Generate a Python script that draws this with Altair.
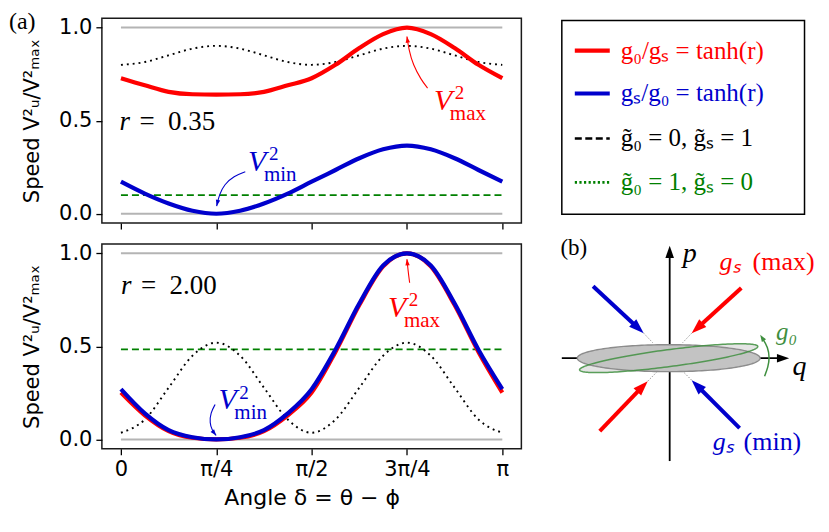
import altair as alt
import numpy as np
import pandas as pd

SERIF = "Liberation Serif"
SANS = "DejaVu Sans"
RED = "#ff0000"
BLUE = "#0000cc"
GREEN = "#008000"
SGREEN = "#3f8f3f"
GRAY = "#b4b4b4"

# ---------------- values ----------------
delta_over_pi = [0.0, 0.0625, 0.125, 0.1875, 0.25, 0.3125, 0.375, 0.4375, 0.5,
                 0.5625, 0.625, 0.6875, 0.75, 0.8125, 0.875, 0.9375, 1.0]

# r = 0.35
top_red = [0.728, 0.690, 0.655, 0.642, 0.640, 0.642, 0.655, 0.690, 0.728,
           0.800, 0.890, 0.965, 1.000, 0.965, 0.890, 0.800, 0.728]
top_blue = [0.172, 0.108, 0.055, 0.016, 0.000, 0.016, 0.055, 0.108, 0.172,
            0.235, 0.298, 0.346, 0.366, 0.346, 0.298, 0.235, 0.172]
top_black = [0.800, 0.815, 0.851, 0.887, 0.902, 0.887, 0.851, 0.815, 0.800,
             0.815, 0.851, 0.887, 0.902, 0.887, 0.851, 0.815, 0.800]
top_green = 0.10

# r = 2.00
bot_red = [0.252, 0.130, 0.045, 0.009, 0.000, 0.009, 0.045, 0.130, 0.252,
           0.470, 0.722, 0.930, 1.000, 0.930, 0.722, 0.470, 0.252]
bot_blue = [0.270, 0.140, 0.050, 0.012, 0.000, 0.012, 0.050, 0.140, 0.270,
            0.482, 0.730, 0.935, 1.000, 0.935, 0.730, 0.482, 0.270]
bot_black = [0.036, 0.107, 0.278, 0.450, 0.520, 0.450, 0.278, 0.107, 0.036,
             0.107, 0.278, 0.450, 0.520, 0.450, 0.278, 0.107, 0.036]
bot_green = 0.484

ref_levels = [0.0, 1.0]
tick_values = [0.0, 0.25, 0.5, 0.75, 1.0]
tick_labels = ["0", "\u03c0/4", "\u03c0/2", "3\u03c0/4", "\u03c0"]
y_ticks = [0.0, 0.5, 1.0]

# annotations (panel coordinates: delta/pi, value)
ann_top = [
    dict(x=0.8206, y=0.559, sub="max", color=RED,
         ax=[0.804, 0.787, 0.766, 0.755, 0.750], ay=[0.675, 0.72, 0.80, 0.88, 0.952]),
    dict(x=0.333, y=0.229, sub="min", color=BLUE,
         ax=[0.326, 0.296, 0.271, 0.258, 0.251], ay=[0.225, 0.202, 0.157, 0.104, 0.041]),
]
ann_bot = [
    dict(x=0.700, y=0.660, sub="max", color=RED,
         ax=[0.757, 0.753, 0.750], ay=[0.842, 0.905, 0.968]),
    dict(x=0.2555, y=0.161, sub="min", color=BLUE,
         ax=[0.247, 0.235, 0.2327, 0.2386, 0.2496], ay=[0.188, 0.143, 0.0896, 0.050, 0.0215]),
]

# legend (panel units)
legend_labels = ["g\u2080/g\u209b = tanh(r)", "g\u209b/g\u2080 = tanh(r)",
                 "g\u0303\u2080 = 0, g\u0303\u209b = 1", "g\u0303\u2080 = 1, g\u0303\u209b = 0"]
legend_colors = [RED, BLUE, "black", GREEN]
legend_rows_y = [1.727, 1.297, 0.847, 0.407]

# schematic (q, p units)
ell_gray = dict(cx=-0.01, cy=0.0, a=0.915, b=0.135, ang=0.0)
ell_tilt = dict(cx=-0.01, cy=0.0, a=0.90, b=0.085, ang=7.5)
arrows_tail_x = [-0.767, 0.717, -0.70, 0.70]
arrows_tail_y = [0.72, 0.703, -0.73, -0.70]
arrows_tip_x = [-0.26, 0.22, -0.22, 0.22]
arrows_tip_y = [0.25, 0.25, -0.23, -0.22]
arrows_color = [BLUE, RED, RED, BLUE]
conn_end_x = [-0.17, 0.13, -0.13, 0.13]
conn_end_y = [0.155, 0.155, -0.14, -0.13]
arc_x = [0.95, 0.985, 1.0, 0.985, 0.925]
arc_y = [-0.18, -0.09, 0.0, 0.11, 0.205]

# ---------------- helpers ----------------
PW, PH = 420, 205
XDOM = [-0.05, 1.05]
YDOM = [-0.05, 1.05]
PX_X = PW / (XDOM[1] - XDOM[0])
PX_Y = PH / (YDOM[1] - YDOM[0])
HEAD = "M0,-1L0.7,1L-0.7,1Z"

label_expr = " : ".join(f"datum.value == {v} ? '{l}'" for v, l in zip(tick_values, tick_labels)) + " : ''"


def angle_of(dx_px, dy_up_px):
    return float(np.degrees(np.arctan2(dx_px, dy_up_px)) % 360)


def xenc(bottom):
    if bottom:
        ax = alt.Axis(values=tick_values, labelExpr=label_expr, title="Angle \u03b4 = \u03b8 \u2212 \u03d5",
                      titleFont=SANS, titleFontSize=22, titleFontWeight="normal", titlePadding=8,
                      titleColor="black", labelFont=SANS, labelFontSize=21, labelColor="black",
                      tickSize=6, tickWidth=1.3, tickColor="black", labelPadding=4, grid=False,
                      domain=False, labelFlush=False)
    else:
        ax = alt.Axis(values=tick_values, labels=False, title=None, tickSize=6, tickWidth=1.3,
                      tickColor="black", grid=False, domain=False)
    return alt.X("d:Q", scale=alt.Scale(domain=XDOM, nice=False, zero=False), axis=ax)


def yenc():
    ax = alt.Axis(values=y_ticks, format=".1f",
                  title="Speed V\u00b2\u1d64/V\u00b2\u2098\u2090\u2093",
                  titleFont=SANS, titleFontSize=21, titleFontWeight="normal", titleColor="black",
                  titlePadding=13, labelFont=SANS, labelFontSize=21, labelColor="black",
                  tickSize=6, tickWidth=1.3, tickColor="black", labelPadding=4,
                  minExtent=46, maxExtent=46, grid=False, domain=False)
    return alt.Y("v:Q", scale=alt.Scale(domain=YDOM, nice=False, zero=False), axis=ax)


def panel(red, blue, black, green, r_text, r_xy, anns, bottom, tag=None):
    X = xenc(bottom)
    Y = yenc()
    layers = []
    gray = pd.DataFrame({"d": [0.0, 0.0], "d2": [1.0, 1.0], "v": ref_levels})
    layers.append(alt.Chart(gray).mark_rule(color=GRAY, strokeWidth=2).encode(x=X, x2="d2:Q", y=Y))
    gdf = pd.DataFrame({"d": [0.0, 1.0], "v": [green, green]})
    layers.append(alt.Chart(gdf).mark_line(color=GREEN, strokeWidth=1.8, strokeDash=[7, 4]).encode(x=X, y=Y))
    styles = [(black, dict(color="black", strokeWidth=1.9, strokeDash=[1.9, 4.0])),
              (red, dict(color=RED, strokeWidth=4.2)),
              (blue, dict(color=BLUE, strokeWidth=4.2))]
    for vals, kw in styles:
        df = pd.DataFrame({"d": delta_over_pi, "v": vals})
        layers.append(alt.Chart(df).mark_line(interpolate="monotone", **kw).encode(x=X, y=Y))
    for a in anns:
        adf = pd.DataFrame({"d": a["ax"], "v": a["ay"], "i": list(range(len(a["ax"])))})
        layers.append(alt.Chart(adf).mark_line(color=a["color"], strokeWidth=1.1, interpolate="basis")
                      .encode(x=X, y=Y, order="i:Q"))
        dx = (a["ax"][-1] - a["ax"][-2]) * PX_X
        dy = (a["ay"][-1] - a["ay"][-2]) * PX_Y
        n = np.hypot(dx, dy)
        hx = a["ax"][-1] - (dx / n) * 3 / PX_X
        hy = a["ay"][-1] - (dy / n) * 3 / PX_Y
        hdf = pd.DataFrame({"d": [hx], "v": [hy]})
        layers.append(alt.Chart(hdf).mark_point(shape=HEAD, filled=True, size=40, angle=angle_of(dx, dy),
                                                color=a["color"], opacity=1).encode(x=X, y=Y))
        tdf = pd.DataFrame({"d": [a["x"]], "v": [a["y"]]})
        layers.append(alt.Chart(tdf).mark_text(text="V", font=SERIF, fontStyle="italic", fontSize=30,
                                               align="left", baseline="alphabetic", color=a["color"])
                      .encode(x=X, y=Y))
        layers.append(alt.Chart(tdf).mark_text(text="2", font=SERIF, fontSize=19, dx=21, dy=-11,
                                               align="left", baseline="alphabetic", color=a["color"])
                      .encode(x=X, y=Y))
        layers.append(alt.Chart(tdf).mark_text(text=a["sub"], font=SERIF, fontSize=21, dx=16, dy=10,
                                               align="left", baseline="alphabetic", color=a["color"])
                      .encode(x=X, y=Y))
    rdf = pd.DataFrame({"d": [r_xy[0]], "v": [r_xy[1]]})
    layers.append(alt.Chart(rdf).mark_text(text="r", font=SERIF, fontStyle="italic", fontSize=27,
                                           align="left", baseline="alphabetic", color="black")
                  .encode(x=X, y=Y))
    layers.append(alt.Chart(rdf).mark_text(text=r_text, font=SERIF, fontSize=27, dx=20,
                                           align="left", baseline="alphabetic", color="black")
                  .encode(x=X, y=Y))
    if tag is not None:
        tg = pd.DataFrame({"d": [XDOM[0] - 93 / PX_X], "v": [YDOM[1] + 8.7 / PX_Y]})
        layers.append(alt.Chart(tg).mark_text(text=tag, font=SERIF, fontSize=24, align="left",
                                              baseline="top", color="black").encode(x=X, y=Y))
    return alt.layer(*layers).properties(
        width=PW, height=PH, view=alt.ViewBackground(stroke="#1a1a1a", strokeWidth=1.5))


top = panel(top_red, top_blue, top_black, top_green, "=\u20020.35", (-0.004, 0.452), ann_top, False, "(a)")
bottom = panel(bot_red, bot_blue, bot_black, bot_green, "=\u20022.00", (0.0, 0.783), ann_bot, True)

# ---------------- legend panel ----------------
RW = 265
LX = alt.X("x:Q", scale=alt.Scale(domain=[0, 2.65], nice=False, zero=False), axis=None)
LY = alt.Y("y:Q", scale=alt.Scale(domain=[0, 2.05], nice=False, zero=False), axis=None)
box = pd.DataFrame({"x": [0.06], "x2": [2.49], "y": [0.087], "y2": [2.027]})
leg_layers = [alt.Chart(box).mark_rect(fill="white", stroke="black", strokeWidth=1.5)
              .encode(x=LX, x2="x2:Q", y=LY, y2="y2:Q")]
leg_styles = [dict(strokeWidth=4.2), dict(strokeWidth=4.2),
              dict(strokeWidth=2.6, strokeDash=[7, 3.5]), dict(strokeWidth=2.6, strokeDash=[2.2, 2.4])]
for yy, col, st in zip(legend_rows_y, legend_colors, leg_styles):
    ldf = pd.DataFrame({"x": [0.19], "x2": [0.54], "y": [yy]})
    leg_layers.append(alt.Chart(ldf).mark_rule(color=col, **st).encode(x=LX, x2="x2:Q", y=LY))
ltxt = pd.DataFrame({"x": [0.65] * 4, "y": legend_rows_y, "t": legend_labels, "c": legend_colors})
leg_layers.append(alt.Chart(ltxt).mark_text(font=SERIF, fontSize=25, align="left", baseline="middle")
                  .encode(x=LX, y=LY, text="t:N", color=alt.Color("c:N", scale=None)))
legend = alt.layer(*leg_layers).properties(width=RW, height=PH)

# ---------------- schematic panel ----------------
SXE = alt.X("x:Q", scale=alt.Scale(domain=[-1.14, 1.51], nice=False, zero=False), axis=None)
SYE = alt.Y("y:Q", scale=alt.Scale(domain=[-0.907, 1.143], nice=False, zero=False), axis=None)


def ellipse_band(e, n=90):
    th = np.radians(e["ang"])
    c, s = np.cos(th), np.sin(th)
    a, b = e["a"], e["b"]
    xm = np.sqrt(a * a * c * c + b * b * s * s)
    xs = xm * np.cos(np.linspace(np.pi, 0, n))
    A = s * s / a ** 2 + c * c / b ** 2
    B = 2 * xs * s * c * (1 / a ** 2 - 1 / b ** 2)
    C = xs ** 2 * (c * c / a ** 2 + s * s / b ** 2) - 1
    disc = np.clip(B * B - 4 * A * C, 0, None)
    lo = (-B - np.sqrt(disc)) / (2 * A)
    hi = (-B + np.sqrt(disc)) / (2 * A)
    return pd.DataFrame({"x": xs + e["cx"], "y": lo + e["cy"], "y2": hi + e["cy"]})


sch = []
axes_df = pd.DataFrame({"x": [-1.08, 0.0], "x2": [1.13, 0.0], "y": [0.0, -1.03], "y2": [0.0, 1.06]})
sch.append(alt.Chart(axes_df).mark_rule(color="black", strokeWidth=1.8)
           .encode(x=SXE, x2="x2:Q", y=SYE, y2="y2:Q"))
axhead = pd.DataFrame({"x": [1.135, 0.0], "y": [0.0, 1.065], "a": [90.0, 0.0]})
for _, rw in axhead.iterrows():
    sch.append(alt.Chart(pd.DataFrame({"x": [rw.x], "y": [rw.y]}))
               .mark_point(shape=HEAD, filled=True, size=150, angle=float(rw.a), color="black", opacity=1)
               .encode(x=SXE, y=SYE))
tilt = ellipse_band(ell_tilt)
grey = ellipse_band(ell_gray)
sch.append(alt.Chart(tilt).mark_area(fill="#e4e4e4", opacity=1).encode(x=SXE, y=SYE, y2="y2:Q"))
sch.append(alt.Chart(grey).mark_area(fill="#c3c3c3", stroke="#8c8c8c", strokeWidth=1.4, opacity=1)
           .encode(x=SXE, y=SYE, y2="y2:Q"))
sch.append(alt.Chart(tilt).mark_area(fillOpacity=0, stroke=SGREEN, strokeWidth=1.5, strokeOpacity=0.85)
           .encode(x=SXE, y=SYE, y2="y2:Q"))
for tx, ty, px, py, col, cx, cy in zip(arrows_tail_x, arrows_tail_y, arrows_tip_x, arrows_tip_y,
                                        arrows_color, conn_end_x, conn_end_y):
    dx, dy = px - tx, py - ty
    n = np.hypot(dx, dy)
    ux, uy = dx / n, dy / n
    shaft = pd.DataFrame({"x": [tx], "y": [ty], "x2": [px - ux * 0.10], "y2": [py - uy * 0.10]})
    sch.append(alt.Chart(shaft).mark_rule(color=col, strokeWidth=4).encode(x=SXE, y=SYE, x2="x2:Q", y2="y2:Q"))
    hd = pd.DataFrame({"x": [px - ux * 0.075], "y": [py - uy * 0.075]})
    sch.append(alt.Chart(hd).mark_point(shape=HEAD, filled=True, size=225, angle=angle_of(dx, dy),
                                        color=col, opacity=1).encode(x=SXE, y=SYE))
    cn = pd.DataFrame({"x": [px], "y": [py], "x2": [cx], "y2": [cy]})
    sch.append(alt.Chart(cn).mark_rule(color="#9a9a9a", strokeWidth=1, strokeDash=[1.5, 1.5])
               .encode(x=SXE, y=SYE, x2="x2:Q", y2="y2:Q"))
arc = pd.DataFrame({"x": arc_x, "y": arc_y, "i": list(range(len(arc_x)))})
sch.append(alt.Chart(arc).mark_line(color=SGREEN, strokeWidth=1.5, interpolate="basis")
           .encode(x=SXE, y=SYE, order="i:Q"))
adx, ady = arc_x[-1] - arc_x[-2], arc_y[-1] - arc_y[-2]
sch.append(alt.Chart(pd.DataFrame({"x": [arc_x[-1]], "y": [arc_y[-1]]}))
           .mark_point(shape=HEAD, filled=True, size=50, angle=angle_of(adx, ady), color=SGREEN, opacity=1)
           .encode(x=SXE, y=SYE))


def stxt(x, y, t, color="black", size=26, italic=False, align="center", dx=0, baseline="middle"):
    kw = dict(text=t, font=SERIF, fontSize=size, align=align, baseline=baseline, color=color, dx=dx)
    if italic:
        kw["fontStyle"] = "italic"
    return alt.Chart(pd.DataFrame({"x": [x], "y": [y]})).mark_text(**kw).encode(x=SXE, y=SYE)


sch.append(stxt(-0.96, 1.10, "(b)", size=23))
sch.append(stxt(0.20, 1.04, "p", italic=True, size=28))
sch.append(stxt(1.30, -0.09, "q", italic=True, size=28))
sch.append(stxt(1.17, 0.26, "g\u2080", color=SGREEN, italic=True, size=25))
sch.append(stxt(0.50, 0.96, "g\u209b", color=RED, italic=True, align="left"))
sch.append(stxt(0.50, 0.96, "(max)", color=RED, align="left", dx=33))
sch.append(stxt(0.43, -0.84, "g\u209b", color=BLUE, italic=True, align="left"))
sch.append(stxt(0.43, -0.84, "(min)", color=BLUE, align="left", dx=31))
schem = alt.layer(*sch).properties(width=RW, height=PH)

chart = alt.concat(top, legend, bottom, schem, columns=2, spacing={"row": 21, "column": 34.5},
                   bounds="flush", align="each").properties(padding=0).configure_view(stroke=None)

chart.save("out.html", embed_options={"renderer": "svg", "actions": False})
